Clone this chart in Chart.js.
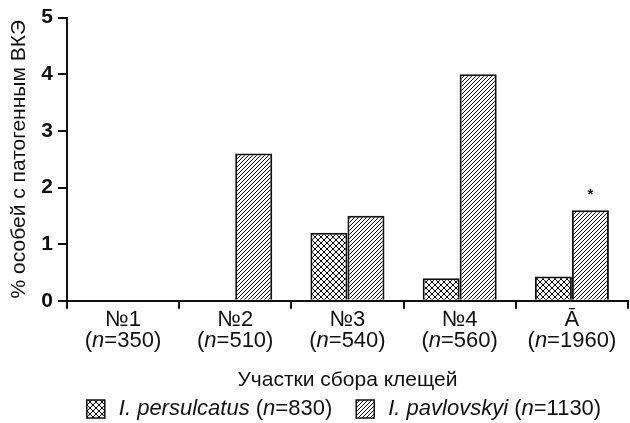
<!doctype html>
<html>
<head>
    <meta charset="UTF-8">
    <title>ВКЭ у клещей</title>
    <script src="https://cdn.jsdelivr.net/npm/chart.js"></script>
    <style>
        html, body { margin: 0; padding: 0; background: #fff; }
        #caixa { width: 630px; height: 423px; }
    </style>
</head>
<body>
    <div id="caixa"><canvas id="grafico"></canvas></div>

    <script>
        // dados
        var uchastki = ['№1', '№2', '№3', '№4', 'Ā'];
        var vyborka = [350, 510, 540, 560, 1960];
        var persulcatus = [0, 0, 1.2, 0.4, 0.43];
        var pavlovskyi = [0, 2.6, 1.5, 4.0, 1.6];
        var znakPavlovskyi = ['', '', '', '', '*'];
        var yTicks = [0, 1, 2, 3, 4, 5];
        var vidy = ['I. persulcatus', 'I. pavlovskyi'];
        var vidyN = [830, 1130];

        var fonte = '"Liberation Sans", Arial, sans-serif';
        var preto = '#111';

        function padraoCruzado() {
            var c = document.createElement('canvas');
            c.width = 6; c.height = 6;
            var g = c.getContext('2d');
            g.fillStyle = '#fff';
            g.fillRect(0, 0, 6, 6);
            g.strokeStyle = '#000';
            g.lineWidth = 1;
            g.beginPath();
            g.moveTo(-1, -1); g.lineTo(7, 7);
            g.moveTo(-1, 7); g.lineTo(7, -1);
            g.stroke();
            return g.createPattern(c, 'repeat');
        }

        function padraoDiagonal() {
            var c = document.createElement('canvas');
            c.width = 4; c.height = 4;
            var g = c.getContext('2d');
            g.fillStyle = '#fff';
            g.fillRect(0, 0, 4, 4);
            g.strokeStyle = '#000';
            g.lineWidth = 1;
            g.beginPath();
            g.moveTo(-1, 5); g.lineTo(5, -1);
            g.moveTo(-1, 1); g.lineTo(1, -1);
            g.moveTo(3, 5); g.lineTo(5, 3);
            g.stroke();
            return g.createPattern(c, 'repeat');
        }

        var cruzado = padraoCruzado();
        var diagonal = padraoDiagonal();

        // escreve partes de texto com estilos diferentes
        function textoMisto(ctx, partes, x, y, tamanho, alinhar) {
            var total = 0;
            partes.forEach(function (p) {
                ctx.font = (p[1] ? 'italic ' : '') + tamanho + 'px ' + fonte;
                p.w = ctx.measureText(p[0]).width;
                total += p.w;
            });
            var xi = alinhar == 'left' ? x : x - total / 2;
            ctx.textAlign = 'left';
            ctx.textBaseline = 'middle';
            ctx.fillStyle = preto;
            partes.forEach(function (p) {
                ctx.font = (p[1] ? 'italic ' : '') + tamanho + 'px ' + fonte;
                ctx.fillText(p[0], xi, y);
                xi += p.w;
            });
            return total;
        }

        var rotulosRicos = {
            id: 'rotulosRicos',
            afterDraw: function (chart) {
                var ctx = chart.ctx;
                var xs = chart.scales.x;
                ctx.save();

                // rótulos do eixo x
                uchastki.forEach(function (u, i) {
                    var x = xs.getPixelForTick(i);
                    textoMisto(ctx, [[u, false]], x, xs.top + 19, 22);
                    textoMisto(ctx, [['(', false], ['n', true], ['=' + vyborka[i] + ')', false]], x, xs.top + 40, 22);
                });

                // asterisco
                var meta = chart.getDatasetMeta(1);
                znakPavlovskyi.forEach(function (z, i) {
                    if (!z) return;
                    var bar = meta.data[i];
                    ctx.font = 'bold 15px ' + fonte;
                    ctx.textAlign = 'center';
                    ctx.textBaseline = 'alphabetic';
                    ctx.fillStyle = preto;
                    ctx.fillText(z, bar.x, bar.y - 11);
                });

                // legenda
                var padroes = [cruzado, diagonal];
                var itens = vidy.map(function (v, i) {
                    return [[v, true], [' (', false], ['n', true], ['=' + vidyN[i] + ')', false]];
                });
                var larguras = itens.map(function (partes) {
                    var w = 0;
                    partes.forEach(function (p) {
                        ctx.font = (p[1] ? 'italic ' : '') + '22px ' + fonte;
                        w += ctx.measureText(p[0]).width;
                    });
                    return w;
                });
                var caixa = 18, vao = 14, entre = 24;
                var total = larguras[0] + larguras[1] + 2 * (caixa + vao) + entre;
                var x = 344 - total / 2;
                var y = chart.height - 14;
                itens.forEach(function (partes, i) {
                    ctx.fillStyle = padroes[i];
                    ctx.fillRect(x, y - caixa / 2, caixa, caixa);
                    ctx.strokeStyle = preto;
                    ctx.lineWidth = 1.5;
                    ctx.strokeRect(x, y - caixa / 2, caixa, caixa);
                    textoMisto(ctx, partes, x + caixa + vao, y, 22, 'left');
                    x += caixa + vao + larguras[i] + entre;
                });

                ctx.restore();
            }
        };

        var grafico = new Chart(document.getElementById('grafico').getContext('2d'), {
            type: 'bar',
            data: {
                labels: uchastki,
                datasets: [{
                    label: vidy[0],
                    data: persulcatus,
                    backgroundColor: cruzado,
                    borderColor: preto,
                    borderWidth: 2,
                    categoryPercentage: 0.66,
                    barPercentage: 1.0
                }, {
                    label: vidy[1],
                    data: pavlovskyi,
                    backgroundColor: diagonal,
                    borderColor: preto,
                    borderWidth: 2,
                    categoryPercentage: 0.66,
                    barPercentage: 1.0
                }]
            },
            options: {
                responsive: true,
                maintainAspectRatio: false,
                animation: false,
                layout: {
                    padding: { left: 2, right: 2, top: 7, bottom: 26 }
                },
                plugins: {
                    legend: { display: false },
                    tooltip: { enabled: false }
                },
                scales: {
                    x: {
                        grid: {
                            offset: true,
                            drawOnChartArea: false,
                            color: preto,
                            lineWidth: 2,
                            tickLength: 8
                        },
                        border: { color: preto, width: 2 },
                        ticks: {
                            color: 'rgba(0,0,0,0)',
                            padding: 1,
                            maxRotation: 0,
                            font: { family: fonte, size: 22, lineHeight: 1.0 },
                            callback: function (v, i) { return [uchastki[i], '(n=' + vyborka[i] + ')']; }
                        },
                        title: {
                            display: true,
                            text: 'Участки сбора клещей',
                            color: preto,
                            font: { family: fonte, size: 21 },
                            padding: { top: 13, bottom: 4 }
                        }
                    },
                    y: {
                        min: 0,
                        max: 5,
                        afterBuildTicks: function (scale) {
                            scale.ticks = yTicks.map(function (v) { return { value: v }; });
                        },
                        grid: {
                            drawOnChartArea: false,
                            color: preto,
                            lineWidth: 2,
                            tickLength: 9
                        },
                        border: { color: preto, width: 2 },
                        ticks: {
                            color: preto,
                            padding: 5,
                            font: { family: fonte, size: 21, weight: 'bold' }
                        },
                        title: {
                            display: true,
                            text: '% особей с патогенным ВКЭ',
                            color: preto,
                            font: { family: fonte, size: 21 },
                            padding: { top: 5, bottom: 4 }
                        }
                    }
                }
            },
            plugins: [rotulosRicos]
        });
    </script>
</body>
</html>
